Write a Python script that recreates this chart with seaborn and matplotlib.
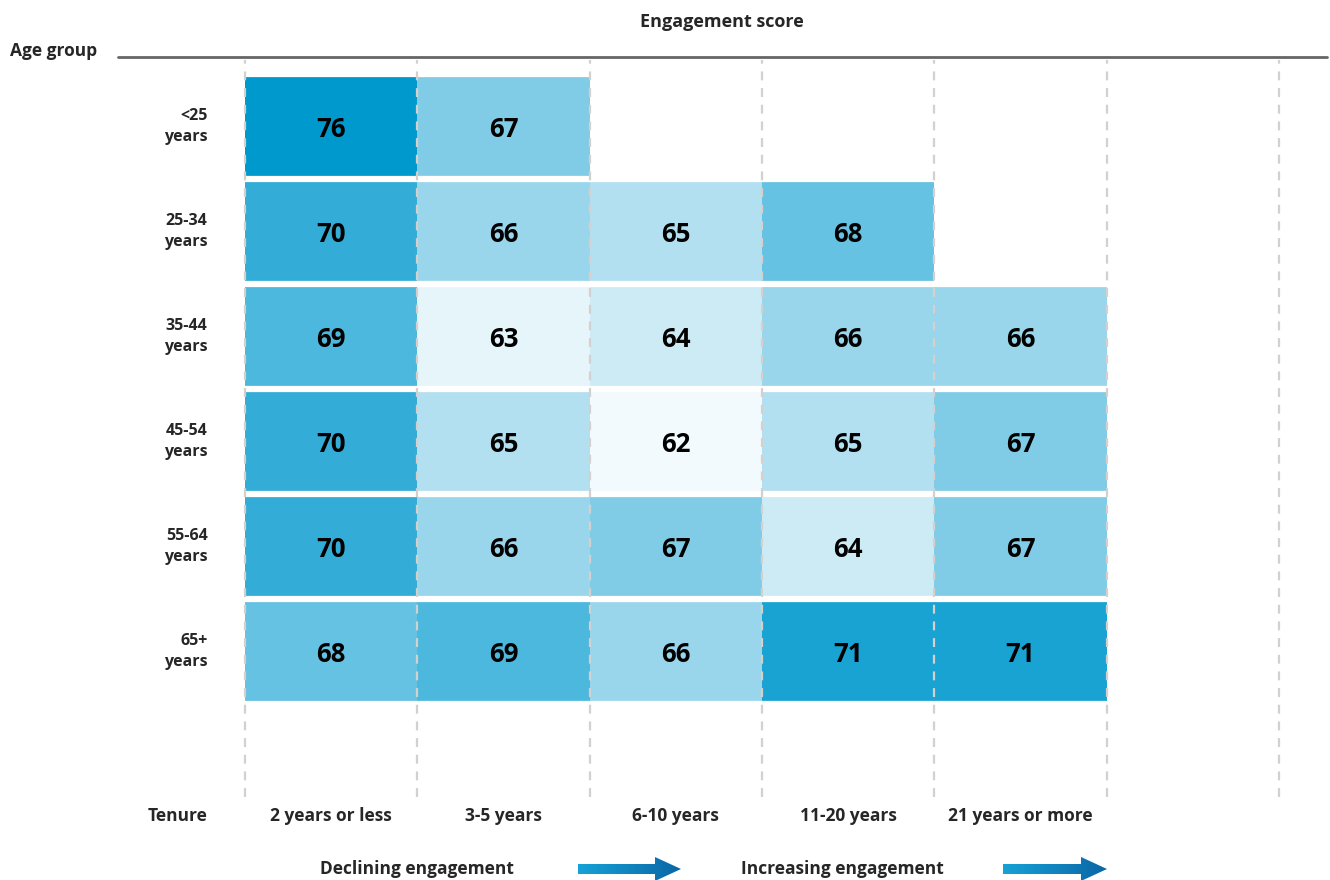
import numpy as np
import pandas as pd
import seaborn as sns
import matplotlib.pyplot as plt
from matplotlib.colors import ListedColormap, LinearSegmentedColormap, to_rgb
from matplotlib.patches import Polygon

sns.set_style('white')
plt.rcParams['font.family'] = ['Open Sans', 'DejaVu Sans']

# data
age_groups = ['<25\nyears', '25-34\nyears', '35-44\nyears', '45-54\nyears', '55-64\nyears', '65+\nyears']
tenure = ['2 years or less', '3-5 years', '6-10 years', '11-20 years', '21 years or more']
score_lt25 = [76, 67, np.nan, np.nan, np.nan]
score_25_34 = [70, 66, 65, 68, np.nan]
score_35_44 = [69, 63, 64, 66, 66]
score_45_54 = [70, 65, 62, 65, 67]
score_55_64 = [70, 66, 67, 64, 67]
score_65p = [68, 69, 66, 71, 71]

df = pd.DataFrame([score_lt25, score_25_34, score_35_44, score_45_54, score_55_64, score_65p],
                  index=age_groups, columns=tenure)

# discrete blue shades: each point of score adds 10% of the base blue
base = np.array(to_rgb('#0099ce'))
levels = np.arange(62, 77)
alphas = np.clip(0.1 * (levels - 62), 0.05, 1.0)
cmap = ListedColormap([1 - a * (1 - base) for a in alphas])

W, H = 1330, 880
fig = plt.figure(figsize=(W / 100, H / 100), dpi=100)
ax = fig.add_axes([245 / W, 83 / H, 1034 / W, 737 / H])

sns.heatmap(df, ax=ax, cmap=cmap, vmin=61.5, vmax=76.5, cbar=False,
            annot=True, fmt='.0f',
            annot_kws=dict(color='black', fontsize=18.5, fontweight='bold'))
# nudge the numbers down a little, the font sits high
for t in ax.texts:
    x, y = t.get_position()
    t.set_position((x, y + 0.025))
ax.set_xlim(0, 6)
ax.set_ylim(6.886, -0.133)
ax.set_xlabel('')
ax.set_ylabel('')

# white gaps between rows, dashed column guides
for y in range(7):
    ax.axhline(y, color='white', lw=4.5, zorder=2)
for x in range(7):
    ax.axvline(x, color='#d3d0ce', lw=1.6, ls=(0, (4, 3.5)), zorder=2.5, clip_on=False)

ax.tick_params(axis='both', length=0)
ax.tick_params(axis='y', pad=27)
ax.tick_params(axis='x', pad=7.5)
for t in ax.get_yticklabels():
    t.set_rotation(0)
    t.set_ha('right')
    t.set_multialignment('right')
    t.set_fontweight('bold')
    t.set_fontsize(11.5)
    t.set_linespacing(1.4)
for t in ax.get_xticklabels():
    t.set_rotation(0)
    t.set_fontweight('bold')
    t.set_fontsize(12.5)

# overlay in pixel coordinates for titles, rule and arrows
ov = fig.add_axes([0, 0, 1, 1])
ov.set_xlim(0, W)
ov.set_ylim(H, 0)
ov.axis('off')

ov.plot([118, 1327], [57, 57], color='#666666', lw=2)
ov.text(722, 22, 'Engagement score', ha='center', va='center', fontsize=13, fontweight='bold')
ov.text(10, 51, 'Age group', ha='left', va='center', fontsize=12.5, fontweight='bold')
ov.text(178, 816, 'Tenure', ha='center', va='center', fontsize=12.5, fontweight='bold')
ov.text(417, 869, 'Declining engagement', ha='center', va='center', fontsize=12.5, fontweight='bold')
ov.text(842, 869, 'Increasing engagement', ha='center', va='center', fontsize=12.5, fontweight='bold')

grad = LinearSegmentedColormap.from_list('arrow', ['#16a2d6', '#0b66a6'])
for x0, x1 in [(578, 681), (1003, 1107)]:
    xh = x1 - 26
    pts = [(x0, 864), (xh, 864), (xh, 857), (x1, 869), (xh, 881), (xh, 874), (x0, 874)]
    poly = Polygon(pts, closed=True, facecolor='none', edgecolor='none')
    ov.add_patch(poly)
    im = ov.imshow(np.linspace(0, 1, 100).reshape(1, -1), cmap=grad, aspect='auto',
                   extent=[x0, x1, 882, 856])
    im.set_clip_path(poly)
ov.set_xlim(0, W)
ov.set_ylim(H, 0)

fig.savefig('out.png', dpi=100)
